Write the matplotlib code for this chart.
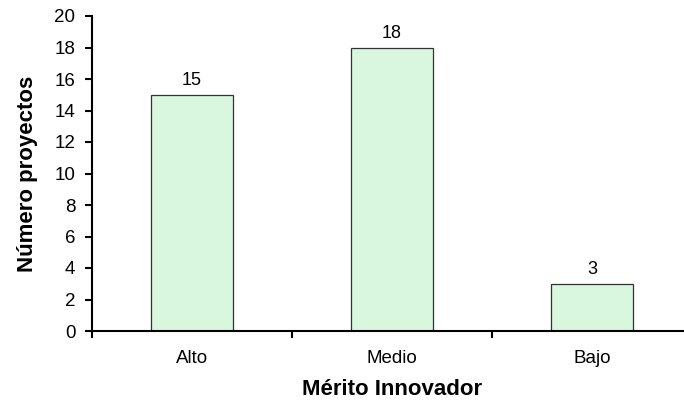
import matplotlib
matplotlib.use('Agg')
import matplotlib.pyplot as plt

categorias = ['Alto', 'Medio', 'Bajo']
proyectos = [15, 18, 3]
y_ticks = list(range(0, 21, 2))

plt.rcParams['font.family'] = ['Liberation Sans', 'DejaVu Sans']

fig = plt.figure(figsize=(6.84, 4.07), dpi=100)
ax = fig.add_axes([92 / 684, 76 / 407, 600 / 684, 315 / 407])

pos = range(len(categorias))
bars = ax.bar(pos, proyectos, width=0.41, color='#d9f6de',
              edgecolor='#333333', linewidth=0.9)
for b, v in zip(bars, proyectos):
    ax.annotate(str(v), (b.get_x() + b.get_width() / 2, v),
                xytext=(0, 4), textcoords='offset points',
                ha='center', va='bottom', fontsize=13)

ax.set_xlim(-0.5, 2.5)
ax.set_ylim(0, 20)
ax.set_yticks(y_ticks)
ax.tick_params(axis='y', direction='out', length=5, width=1.5, pad=7,
               labelsize=13.5)

# category labels sit between the boundary ticks
ax.set_xticks([-0.5, 0.5, 1.5])
ax.set_xticklabels([])
ax.set_xticks(list(pos), minor=True)
ax.set_xticklabels(categorias, minor=True)
ax.tick_params(axis='x', which='major', direction='out', length=5, width=1.5)
ax.tick_params(axis='x', which='minor', length=0, pad=14, labelsize=13.5)

for s in ['top', 'right']:
    ax.spines[s].set_visible(False)
for s in ['left', 'bottom']:
    ax.spines[s].set_linewidth(1.5)

ax.set_xlabel('Mérito Innovador', fontsize=16, fontweight='bold', labelpad=8)
ax.set_ylabel('Número proyectos', fontsize=16, fontweight='bold', labelpad=12)

fig.savefig('out.png', dpi=100)
